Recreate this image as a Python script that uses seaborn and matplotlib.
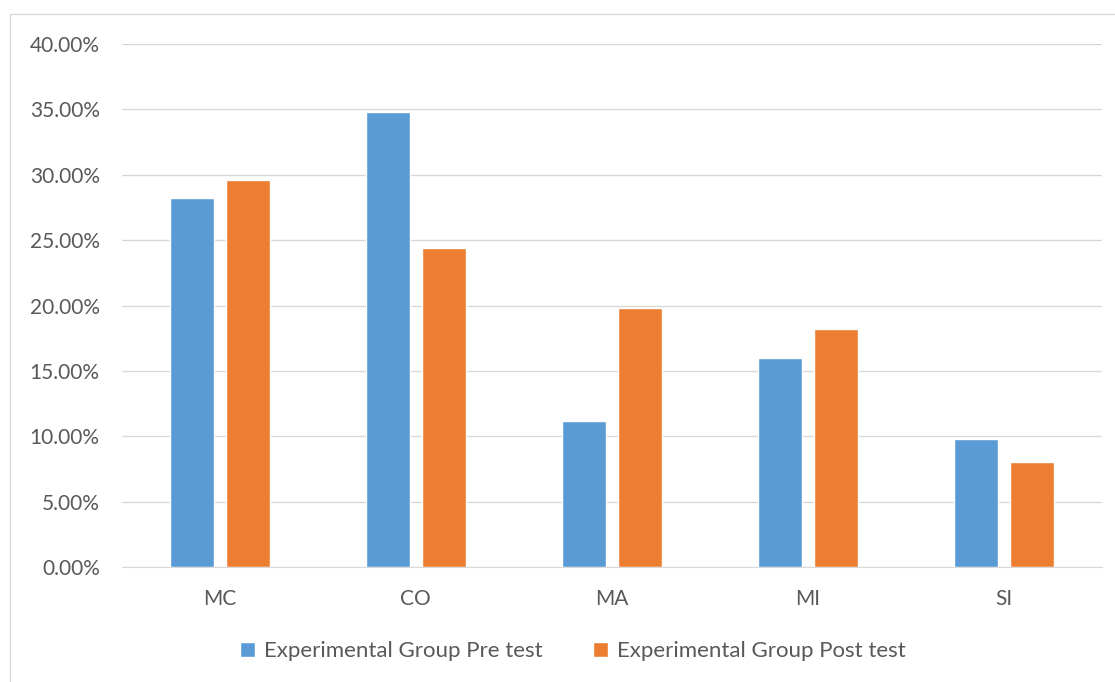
import pandas as pd
import matplotlib.pyplot as plt
import seaborn as sns
from matplotlib.patches import Rectangle
from matplotlib.ticker import PercentFormatter

# values (percent)
categories = ["MC", "CO", "MA", "MI", "SI"]
pre_test = [28.2, 34.8, 11.2, 16.0, 9.8]
post_test = [29.6, 24.4, 19.8, 18.2, 8.0]
series_names = ["Experimental Group Pre test", "Experimental Group Post test"]

df = pd.DataFrame({
    "category": categories * 2,
    "value": pre_test + post_test,
    "group": [series_names[0]] * len(categories) + [series_names[1]] * len(categories),
})

sns.set_style("white")
plt.rcParams['font.family'] = ['Lato', 'DejaVu Sans']
txt = "#595959"

fig = plt.figure(figsize=(11.15, 6.82), dpi=100)
ax = fig.add_axes([0.1094, 0.1686, 0.8786, 0.7669])

sns.barplot(data=df, x="category", y="value", hue="group",
            palette=["#5B9BD5", "#ED7D31"], width=0.571, gap=0.214,
            saturation=1, ax=ax)

ax.set_ylim(0, 40)
ax.set_yticks(range(0, 41, 5))
ax.yaxis.set_major_formatter(PercentFormatter(decimals=2))
ax.set_xlim(-0.5, len(categories) - 0.5)
ax.grid(axis="y", color="#D9D9D9", linewidth=1)
ax.set_axisbelow(True)
for s in ["left", "right", "top"]:
    ax.spines[s].set_visible(False)
ax.spines["bottom"].set_color("#D9D9D9")
ax.tick_params(axis="both", length=0, labelsize=15, labelcolor=txt)
ax.tick_params(axis="y", pad=16)
ax.tick_params(axis="x", pad=16)
ax.set_xlabel("")
ax.set_ylabel("")

handles, labels = ax.get_legend_handles_labels()
fig.legend(handles, labels, loc="center", bbox_to_anchor=(573 / 1115, 1 - 651 / 682),
           ncol=2, frameon=False, fontsize=16, labelcolor=txt,
           handlelength=0.65, handleheight=0.65, handletextpad=0.4,
           columnspacing=2.3)
ax.get_legend().remove()

# chart border
fig.patches.append(Rectangle((10 / 1115, -0.01), 1.2, 1 - 14 / 682 + 0.01,
                             transform=fig.transFigure, fill=False,
                             edgecolor="#D9D9D9", linewidth=1))

fig.savefig("out.png", dpi=100)
